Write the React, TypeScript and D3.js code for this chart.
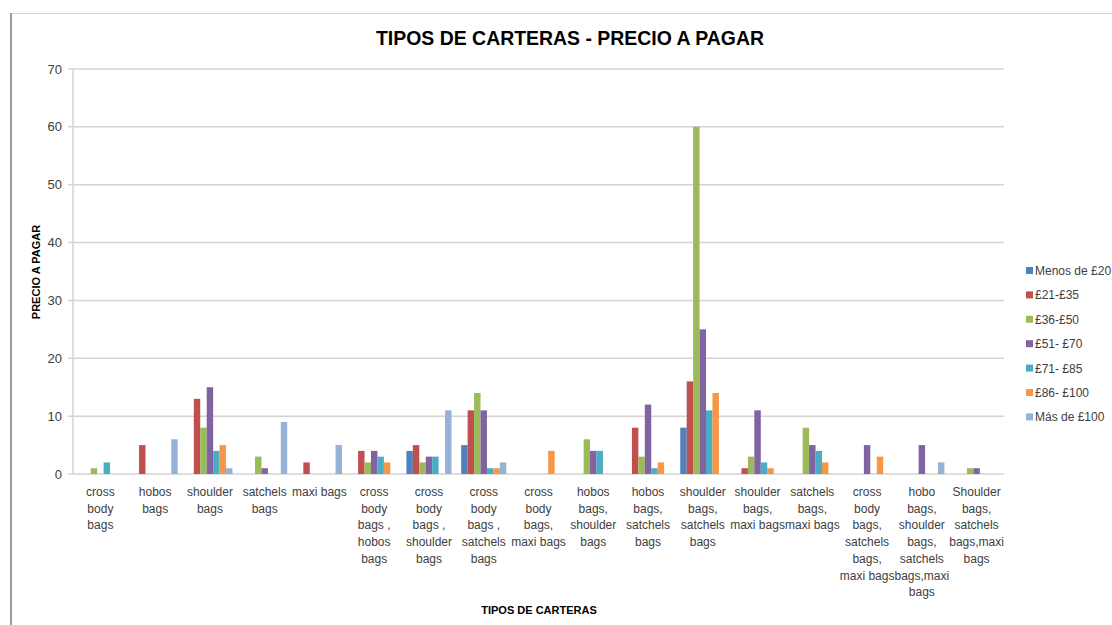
import React from "react";
import * as d3 from "d3";

const title = "TIPOS DE CARTERAS - PRECIO A PAGAR";
const yTitle = "PRECIO A PAGAR";
const xTitle = "TIPOS DE CARTERAS";

const categories = [
  "cross\nbody\nbags",
  "hobos\nbags",
  "shoulder\nbags",
  "satchels\nbags",
  "maxi bags",
  "cross\nbody\nbags ,\nhobos\nbags",
  "cross\nbody\nbags ,\nshoulder\nbags",
  "cross\nbody\nbags ,\nsatchels\nbags",
  "cross\nbody\nbags,\nmaxi bags",
  "hobos\nbags,\nshoulder\nbags",
  "hobos\nbags,\nsatchels\nbags",
  "shoulder\nbags,\nsatchels\nbags",
  "shoulder\nbags,\nmaxi bags",
  "satchels\nbags,\nmaxi bags",
  "cross\nbody\nbags,\nsatchels\nbags,\nmaxi bags",
  "hobo\nbags,\nshoulder\nbags,\nsatchels\nbags,maxi\nbags",
  "Shoulder\nbags,\nsatchels\nbags,maxi\nbags",
];

const seriesNames = [
  "Menos de £20",
  "£21-£35",
  "£36-£50",
  "£51- £70",
  "£71- £85",
  "£86- £100",
  "Más de £100",
];

const seriesColors = ["#4F81BD", "#C0504D", "#9BBB59", "#8064A2", "#4BACC6", "#F79646", "#95B3D7"];

const menos20 = [0, 0, 0, 0, 0, 0, 4, 5, 0, 0, 0, 8, 0, 0, 0, 0, 0];
const p21_35 = [0, 5, 13, 0, 2, 4, 5, 11, 0, 0, 8, 16, 1, 0, 0, 0, 0];
const p36_50 = [1, 0, 8, 3, 0, 2, 2, 14, 0, 6, 3, 60, 3, 8, 0, 0, 1];
const p51_70 = [0, 0, 15, 1, 0, 4, 3, 11, 0, 4, 12, 25, 11, 5, 5, 5, 1];
const p71_85 = [2, 0, 4, 0, 0, 3, 3, 1, 0, 4, 1, 11, 2, 4, 0, 0, 0];
const p86_100 = [0, 0, 5, 0, 0, 2, 0, 1, 4, 0, 2, 14, 1, 2, 3, 0, 0];
const mas100 = [0, 6, 1, 9, 5, 0, 11, 2, 0, 0, 0, 0, 0, 0, 0, 2, 0];

const seriesValues = [menos20, p21_35, p36_50, p51_70, p71_85, p86_100, mas100];

const yTicks = [0, 10, 20, 30, 40, 50, 60, 70];

export default function App() {
  const W = 1112;
  const H = 625;
  const left = 73;
  const right = 1004;
  const top = 69;
  const bottom = 474;
  const font = "'Liberation Sans', Arial, sans-serif";

  const x = d3
    .scaleBand<number>()
    .domain(categories.map((_, i) => i))
    .range([left, right])
    .paddingInner(0)
    .paddingOuter(0);
  const gap = 1.5;
  const barW = x.bandwidth() / (seriesNames.length + gap);
  const y = d3.scaleLinear().domain([0, 70]).range([bottom, top]);

  return (
    <svg
      width={W}
      height={H}
      style={{ position: "fixed", left: 0, top: 0, background: "#fff" }}
      fontFamily={font}
    >
      <rect x={0} y={0} width={W} height={H} fill="#fff" />
      {/* chart area border */}
      <line x1={11} x2={W} y1={13.5} y2={13.5} stroke="#d4d4d4" strokeWidth={1} />
      <line x1={11} x2={11} y1={13} y2={H} stroke="#9a9a9a" strokeWidth={2} />

      <text
        x={570}
        y={45}
        textAnchor="middle"
        fontSize={20.5}
        fontWeight="bold"
        fill="#000"
        textLength={388}
        lengthAdjust="spacingAndGlyphs"
      >
        {title}
      </text>

      {/* gridlines and y ticks */}
      {yTicks.map((t) => (
        <g key={t}>
          <line x1={68} x2={right} y1={y(t)} y2={y(t)} stroke="#d3d3d3" strokeWidth={1.5} />
          <text x={62} y={y(t) + 4.5} textAnchor="end" fontSize={13} fill="#404040">
            {t}
          </text>
        </g>
      ))}
      <line x1={left} x2={left} y1={top} y2={bottom} stroke="#d3d3d3" strokeWidth={1.5} />

      {/* bars */}
      {seriesValues.map((vals, s) =>
        vals.map((v, i) =>
          v > 0 ? (
            <rect
              key={`${s}-${i}`}
              x={(x(i) as number) + (gap / 2) * barW + s * barW}
              y={y(v)}
              width={barW}
              height={y(0) - y(v)}
              fill={seriesColors[s]}
            />
          ) : null
        )
      )}

      {/* category labels */}
      {categories.map((c, i) => (
        <text
          key={i}
          x={(x(i) as number) + x.bandwidth() / 2}
          y={496}
          textAnchor="middle"
          fontSize={12}
          fill="#404040"
        >
          {c.split("\n").map((ln, k) => (
            <tspan key={k} x={(x(i) as number) + x.bandwidth() / 2} dy={k === 0 ? 0 : 16.7}>
              {ln}
            </tspan>
          ))}
        </text>
      ))}

      {/* axis titles */}
      <text x={539} y={614} textAnchor="middle" fontSize={11} fontWeight="bold" fill="#000">
        {xTitle}
      </text>
      <text
        transform={`translate(40,272) rotate(-90)`}
        textAnchor="middle"
        fontSize={11}
        fontWeight="bold"
        fill="#000"
      >
        {yTitle}
      </text>

      {/* legend */}
      {seriesNames.map((n, s) => (
        <g key={n} transform={`translate(1026,${271 + s * 24.4})`}>
          <rect x={0} y={-4} width={7} height={7} fill={seriesColors[s]} />
          <text x={9} y={4} fontSize={12} fill="#404040">
            {n}
          </text>
        </g>
      ))}
    </svg>
  );
}
